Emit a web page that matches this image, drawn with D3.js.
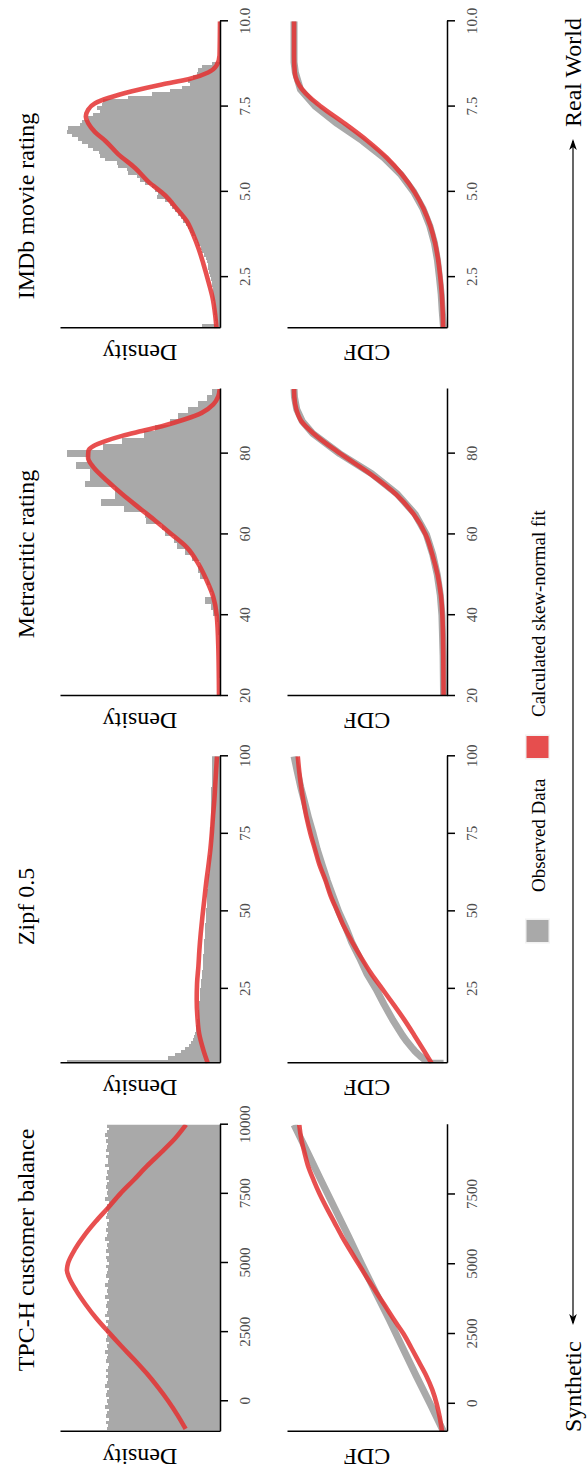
<!DOCTYPE html>
<html><head><meta charset="utf-8">
<script src="https://cdn.jsdelivr.net/npm/d3@7"></script>
<style>body{margin:0;background:#fff}svg{display:block}</style>
</head><body>
<svg id="c" width="587" height="1470"></svg>
<script>
// ---------------- DATA ----------------
const titles = ["TPC-H customer balance", "Zipf 0.5", "Metracritic rating", "IMDb movie rating"];
const densityLabel = "Density", cdfLabel = "CDF";
const legendLabels = ["Observed Data", "Calculated skew-normal fit"];
const arrowLabels = ["Synthetic", "Real World"];

// x domains
const tpchDomainDensity = [-1100, 10000], tpchDomainCdf = [-1000, 10000];
const zipfDomain = [1, 100], metaDomain = [20, 96], imdbDomain = [1, 10];
// tick values
const tpchTicksDensity = [0, 2500, 5000, 7500, 10000];
const tpchTicksCdf = [0, 2500, 5000, 7500];
const zipfTicks = [25, 50, 75, 100];
const metaTicks = [20, 40, 60, 80];
const imdbTicks = [2.5, 5.0, 7.5, 10.0];

// histograms: first bin start, bin width, densities
// TPC-H (density x 1e-5)
const tpchBinStart = -1050, tpchBinWidth = 110.5;
const tpchHist = [9.02,8.95,9.10,8.88,9.15,9.05,8.92,9.20,8.98,9.07,
 8.90,9.12,9.01,8.85,9.18,9.03,8.96,9.09,8.93,9.14,
 9.00,8.87,9.11,9.04,8.94,9.22,8.99,9.06,8.91,9.13,
 9.08,8.89,9.16,9.02,8.97,9.10,8.86,9.19,9.01,8.95,
 9.12,9.05,8.90,9.17,8.98,9.08,8.93,9.21,9.00,8.88,
 9.14,9.03,8.96,9.11,8.92,9.06,9.15,8.87,9.09,8.99,
 9.04,8.91,9.18,9.02,8.94,9.13,8.97,9.07,8.89,9.16,
 9.01,8.95,9.10,9.05,8.86,9.20,8.98,9.08,8.93,9.12,
 9.03,8.90,9.15,8.99,9.06,8.92,9.19,9.00,8.96,9.11,
 8.88,9.14,9.04,8.97,9.09,8.94,9.17,9.02,8.91,9.06];
// Zipf 0.5 (density)
const zipfBinStart = 1, zipfBinWidth = 1;
const zipfHist = [0.0914,0.0310,0.0268,0.0232,0.0206,0.0185,0.0173,0.0164,0.0155,0.0149,
 0.0145,0.0141,0.0138,0.0136,0.0134,0.0131,0.0129,0.0128,0.0126,0.0124,
 0.0122,0.0120,0.0119,0.0117,0.0115,0.0113,0.0111,0.0110,0.0108,0.0106,
 0.0104,0.0103,0.0102,0.0101,0.0100,0.0098,0.0097,0.0096,0.0095,0.0094,
 0.0092,0.0091,0.0090,0.0089,0.0088,0.0086,0.0085,0.0084,0.0083,0.0082,
 0.0080,0.0079,0.0078,0.0077,0.0076,0.0075,0.0073,0.0072,0.0071,0.0070,
 0.0069,0.0068,0.0067,0.0066,0.0064,0.0064,0.0063,0.0062,0.0061,0.0060,
 0.0060,0.0059,0.0058,0.0058,0.0057,0.0057,0.0056,0.0055,0.0055,0.0054,
 0.0054,0.0053,0.0052,0.0052,0.0052,0.0051,0.0051,0.0051,0.0051,0.0050,
 0.0050,0.0049,0.0049,0.0049,0.0049,0.0049,0.0049,0.0048,0.0048];
// Metacritic (density x 1e-3)
const metaBinStart = 20, metaBinWidth = 1.52;
const metaHist = [0.08,0.08,0.08,0.14,0.14,0.27,0.27,0.33,0.41,0.41,
 0.55,0.68,0.90,1.83,2.46,4.10,2.27,2.73,3.63,5.46,
 5.92,5.46,7.73,9.56,11.8,12.6,15.0,15.8,20.2,20.5,
 26.4,32.5,28.7,28.7,37.0,35.5,35.5,39.3,36.3,41.9,
 31.9,26.8,20.9,17.7,13.7,11.4,8.65,5.92,3.63,2.27];
// IMDb (density)
const imdbBinStart = 1.0, imdbBinWidth = 0.1;
const imdbHist = [0.042,0.010,0.011,0.011,0.013,0.013,0.014,0.014,0.015,0.016,
 0.017,0.017,0.019,0.019,0.021,0.023,0.025,0.027,0.028,0.030,
 0.032,0.036,0.040,0.043,0.049,0.053,0.057,0.063,0.068,0.072,
 0.078,0.083,0.089,0.095,0.102,0.110,0.114,0.125,0.144,0.140,
 0.148,0.155,0.170,0.182,0.189,0.208,0.212,0.231,0.234,0.261,
 0.272,0.276,0.288,0.299,0.314,0.322,0.337,0.348,0.346,0.318,
 0.314,0.299,0.288,0.272,0.280,0.269,0.265,0.208,0.154,0.114,
 0.087,0.068,0.072,0.061,0.052,0.049,0.042,0.018,0,0];

// skew-normal fit density [x, density] (same units as histograms)
const tpchFitDensity = [[-1000,2.75],[-500,3.4],[0,4.13],[500,4.95],[1000,5.85],[1500,6.85],[2000,7.9],[2500,8.92],[3000,9.9],[3500,10.75],[4000,11.5],[4500,12.1],[4750,12.25],[5000,12.15],[5500,11.6],[6000,10.85],[6500,9.95],[7000,8.95],[7500,7.99],[8000,6.9],[8500,5.85],[9000,4.7],[9500,3.6],[10000,2.72]];
const zipfFitDensity = [[1,0.0073],[5.4,0.0100],[10.7,0.0125],[16.1,0.0135],[21.5,0.0139],[26.8,0.0137],[32.2,0.0129],[37.6,0.0123],[42.9,0.0115],[48.3,0.0105],[53.6,0.0094],[59,0.0083],[64.4,0.0070],[69.7,0.0058],[75.1,0.0049],[80.5,0.0042],[85.8,0.0034],[91.2,0.0028],[100,0.0018]];
const metaFitDensity = [[20,0.27],[32,0.46],[40,0.9],[44.5,1.83],[48.6,3.63],[52.7,5.92],[56.8,9.09],[60,13.2],[63.4,17.7],[66.7,22.3],[70,26.8],[73.3,30.9],[76.6,34.6],[79,36.1],[80.7,36.0],[81.9,34.6],[83.1,31.4],[84.4,26.8],[85.6,21.4],[86.8,15.9],[88.5,9.56],[90.1,5.0],[92.2,1.83],[94.2,0.46],[96,0.08]];
const imdbFitDensity = [[1.0,0.008],[1.4,0.011],[1.9,0.017],[2.4,0.027],[2.9,0.038],[3.35,0.049],[3.75,0.061],[4.15,0.076],[4.5,0.098],[4.9,0.125],[5.3,0.163],[5.7,0.193],[6.1,0.231],[6.5,0.261],[6.75,0.284],[7.0,0.299],[7.2,0.305],[7.4,0.300],[7.6,0.284],[7.75,0.254],[7.95,0.200],[8.15,0.132],[8.3,0.072],[8.5,0.027],[8.7,0.008],[9.0,0.001],[10,0]];

// observed CDF [x, F]
const tpchObsCdf = [[-1000,0],[0,0.09],[1000,0.183],[2000,0.273],[3000,0.362],[4000,0.455],[5000,0.547],[6000,0.636],[7000,0.727],[8000,0.819],[9000,0.909],[10000,1.0]];
const zipfObsCdf = [[1,0],[1,0.091],[2,0.122],[3,0.149],[4,0.172],[5,0.193],[6,0.211],[8,0.245],[10,0.275],[15,0.34],[20,0.398],[25,0.452],[30,0.514],[35,0.562],[40,0.614],[45,0.655],[50,0.702],[55,0.74],[60,0.778],[65,0.812],[70,0.845],[75,0.872],[80,0.902],[85,0.928],[90,0.955],[95,0.978],[100,1.0]];
const metaObsCdf = [[20,0],[30,0.003],[40,0.011],[45,0.022],[50,0.042],[55,0.072],[60,0.115],[65,0.19],[70,0.31],[75,0.48],[80,0.695],[85,0.875],[88,0.945],[91,0.982],[94,0.997],[96,1.0]];
const imdbObsCdf = [[1,0],[1.5,0.009],[2,0.016],[2.5,0.028],[3,0.041],[3.5,0.061],[4,0.092],[4.5,0.137],[5,0.2],[5.5,0.284],[6,0.399],[6.5,0.544],[7,0.711],[7.5,0.856],[8,0.957],[8.5,0.991],[8.8,1.0],[10,1.0]];
// fitted CDF [x, F]
const tpchFitCdf = [[-1000,0.01],[-500,0.025],[0,0.046],[500,0.075],[1000,0.115],[1500,0.165],[2000,0.215],[2500,0.267],[3000,0.33],[3500,0.39],[4000,0.45],[4500,0.51],[5000,0.567],[5500,0.625],[6000,0.68],[6500,0.73],[7000,0.78],[7500,0.827],[8000,0.868],[8500,0.905],[9000,0.93],[9500,0.952],[10000,0.965]];
const zipfFitCdf = [[1,0.08],[5,0.13],[10,0.195],[15,0.262],[20,0.335],[25,0.41],[30,0.485],[35,0.55],[40,0.61],[45,0.665],[50,0.71],[55,0.755],[60,0.79],[65,0.83],[70,0.86],[75,0.89],[80,0.915],[85,0.935],[90,0.952],[95,0.965],[100,0.975]];
const metaFitCdf = [[20,0],[30,0.002],[40,0.008],[45,0.018],[50,0.04],[55,0.075],[60,0.12],[65,0.2],[70,0.32],[75,0.49],[80,0.69],[85,0.87],[88,0.95],[91,0.985],[94,0.998],[96,1.0]];
const imdbFitCdf = [[1,0.003],[1.5,0.006],[2,0.012],[2.5,0.022],[3,0.036],[3.5,0.057],[4,0.088],[4.5,0.133],[5,0.195],[5.5,0.277],[6,0.38],[6.5,0.51],[7,0.66],[7.5,0.82],[7.75,0.89],[8,0.945],[8.25,0.98],[8.5,0.995],[9,1.0],[10,1.0]];

// ---------------- STYLE / LAYOUT ----------------
const FONT = "'Liberation Serif','DejaVu Serif',serif";
const GRAY = "#A9A9A9", RED = "#E43131", RED_OP = 0.85;
const panelLefts = [38.3, 406.7, 774, 1141.7], PW = 307;
const titleCenters = [220, 563.5, 916, 1264];
const DT = 60, DB = 220, CT = 287, CB = 447;

const panels = [
  {xd: tpchDomainDensity, xc: tpchDomainCdf, td: tpchTicksDensity, tc: tpchTicksCdf, fmt: d3.format("d"),
   bs: tpchBinStart, bw: tpchBinWidth, hist: tpchHist, fitD: tpchFitDensity, obsC: tpchObsCdf, fitC: tpchFitCdf},
  {xd: zipfDomain, xc: zipfDomain, td: zipfTicks, tc: zipfTicks, fmt: d3.format("d"),
   bs: zipfBinStart, bw: zipfBinWidth, hist: zipfHist, fitD: zipfFitDensity, obsC: zipfObsCdf, fitC: zipfFitCdf},
  {xd: metaDomain, xc: metaDomain, td: metaTicks, tc: metaTicks, fmt: d3.format("d"),
   bs: metaBinStart, bw: metaBinWidth, hist: metaHist, fitD: metaFitDensity, obsC: metaObsCdf, fitC: metaFitCdf},
  {xd: imdbDomain, xc: imdbDomain, td: imdbTicks, tc: imdbTicks, fmt: d3.format(".1f"),
   bs: imdbBinStart, bw: imdbBinWidth, hist: imdbHist, fitD: imdbFitDensity, obsC: imdbObsCdf, fitC: imdbFitCdf}
];

const svg = d3.select("#c");
const defs = svg.append("defs");
// landscape drawing rotated into the portrait page
const root = svg.append("g").attr("transform", "translate(0,1470) rotate(-90)");

function styleAxis(sel) {
  sel.select(".domain").attr("stroke", "#000").attr("stroke-width", 1.5);
  sel.selectAll(".tick line").attr("stroke", "#000").attr("stroke-width", 1.5);
  sel.selectAll(".tick text").attr("fill", "#4d4d4d").style("font-family", FONT).style("font-size", "15px");
}

panels.forEach((p, i) => {
  const left = panelLefts[i];
  const g = root.append("g");
  const xD = d3.scaleLinear().domain(p.xd).range([left, left + PW]);
  const xC = d3.scaleLinear().domain(p.xc).range([left, left + PW]);
  const yMax = d3.max([...p.hist, ...p.fitD.map(d => d[1])]) * 1.045;
  const yD = d3.scaleLinear().domain([0, yMax]).range([DB, DT]);
  const yC = d3.scaleLinear().domain([-0.023, 1.047]).range([CB, CT]);

  defs.append("clipPath").attr("id", "cd" + i).append("rect")
    .attr("x", left).attr("y", DT).attr("width", PW).attr("height", DB - DT);
  defs.append("clipPath").attr("id", "cc" + i).append("rect")
    .attr("x", left).attr("y", CT).attr("width", PW).attr("height", CB - CT);

  // title
  g.append("text").attr("x", titleCenters[i]).attr("y", 33.5).attr("text-anchor", "middle")
    .style("font-family", FONT).style("font-size", "24px").text(titles[i]);

  // density panel
  const gd = g.append("g").attr("clip-path", `url(#cd${i})`);
  gd.append("g").attr("shape-rendering", "crispEdges")
    .selectAll("rect.bar").data(p.hist).join("rect").attr("class", "bar")
    .attr("x", (d, j) => xD(p.bs + j * p.bw))
    .attr("width", (d, j) => xD(p.bs + (j + 1) * p.bw) - xD(p.bs + j * p.bw) + 0.6)
    .attr("y", d => yD(d)).attr("height", d => yD(0) - yD(d))
    .attr("fill", GRAY);
  gd.append("path").datum(p.fitD)
    .attr("d", d3.line().x(d => xD(d[0])).y(d => yD(d[1])).curve(d3.curveMonotoneX))
    .attr("fill", "none").attr("stroke", RED).attr("stroke-opacity", RED_OP).attr("stroke-width", 4.6);

  // cdf panel
  const gc = g.append("g").attr("clip-path", `url(#cc${i})`);
  gc.append("path").datum(p.obsC)
    .attr("d", d3.line().x(d => xC(d[0])).y(d => yC(d[1])))
    .attr("fill", "none").attr("stroke", GRAY).attr("stroke-width", 7).attr("stroke-linejoin", "round");
  gc.append("path").datum(p.fitC)
    .attr("d", d3.line().x(d => xC(d[0])).y(d => yC(d[1])).curve(d3.curveMonotoneX))
    .attr("fill", "none").attr("stroke", RED).attr("stroke-opacity", RED_OP).attr("stroke-width", 4.6);

  // axes
  g.append("g").attr("transform", `translate(0,${DB})`)
    .call(d3.axisBottom(xD).tickValues(p.td).tickFormat(p.fmt).tickSize(8).tickPadding(11).tickSizeOuter(0))
    .call(styleAxis);
  g.append("g").attr("transform", `translate(0,${CB})`)
    .call(d3.axisBottom(xC).tickValues(p.tc).tickFormat(p.fmt).tickSize(8).tickPadding(11).tickSizeOuter(0))
    .call(styleAxis);
  g.append("g").attr("transform", `translate(${left},0)`)
    .call(d3.axisLeft(yD).tickValues([]).tickSizeOuter(0)).call(styleAxis);
  g.append("g").attr("transform", `translate(${left},0)`)
    .call(d3.axisLeft(yC).tickValues([]).tickSizeOuter(0)).call(styleAxis);

  // y labels
  g.append("text").attr("transform", `translate(${left - 17},${(DT + DB) / 2}) rotate(-90)`)
    .attr("text-anchor", "middle").style("font-family", FONT).style("font-size", "24px").text(densityLabel);
  g.append("text").attr("transform", `translate(${left - 17},${(CT + CB) / 2}) rotate(-90)`)
    .attr("text-anchor", "middle").style("font-family", FONT).style("font-size", "24px").text(cdfLabel);
});

// legend
const legend = root.append("g");
const keys = [{x: 528, fill: GRAY, op: 1, tx: 578}, {x: 712, fill: RED, op: RED_OP, tx: 753}];
keys.forEach((k, i) => {
  legend.append("rect").attr("x", k.x - 1.5).attr("y", 525).attr("width", 25).attr("height", 25).attr("fill", "#f2f2f2");
  legend.append("rect").attr("x", k.x).attr("y", 526.5).attr("width", 22).attr("height", 22)
    .attr("fill", k.fill).attr("fill-opacity", k.op);
  legend.append("text").attr("x", k.tx).attr("y", 545).style("font-family", FONT).style("font-size", "19px")
    .text(legendLabels[i]);
});

// synthetic <-> real world arrow
const ay = 573;
root.append("line").attr("x1", 147).attr("x2", 1329).attr("y1", ay).attr("y2", ay)
  .attr("stroke", "#000").attr("stroke-width", 1.2);
root.append("path").attr("d", `M145,${ay} L156,${ay - 3.8} L153,${ay} L156,${ay + 3.8} Z`).attr("fill", "#000");
root.append("path").attr("d", `M1331,${ay} L1320,${ay - 3.8} L1323,${ay} L1320,${ay + 3.8} Z`).attr("fill", "#000");
root.append("text").attr("x", 38).attr("y", 581).style("font-family", FONT).style("font-size", "24px").text(arrowLabels[0]);
root.append("text").attr("x", 1343).attr("y", 581).style("font-family", FONT).style("font-size", "24px").text(arrowLabels[1]);
</script>
</body></html>
